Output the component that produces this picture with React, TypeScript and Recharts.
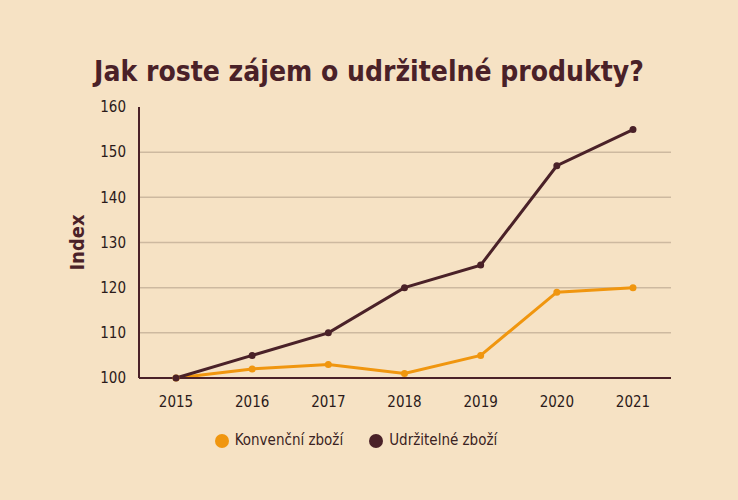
import { CartesianGrid, Legend, Line, LineChart, XAxis, YAxis } from "recharts";

const years = ["2015", "2016", "2017", "2018", "2019", "2020", "2021"];
const konvencni = [100, 102, 103, 101, 105, 119, 120];
const udrzitelne = [100, 105, 110, 120, 125, 147, 155];
const yTicks = [100, 110, 120, 130, 140, 150, 160];

const data = years.map((year, i) => ({
  year,
  konvencni: konvencni[i],
  udrzitelne: udrzitelne[i],
}));

const BG = "#f6e2c4";
const DARK = "#4a2128";
const ORANGE = "#f0960f";
const GRID = "#cdb9a0";
const FONT = "'DejaVu Sans Condensed', 'DejaVu Sans', sans-serif";

export default function App() {
  return (
    <div
      style={{
        position: "absolute",
        left: 0,
        top: 0,
        width: 738,
        height: 500,
        background: BG,
        fontFamily: FONT,
      }}
    >
      <div
        style={{
          position: "absolute",
          top: 55,
          left: 0,
          width: 738,
          textAlign: "center",
          fontSize: 28,
          fontWeight: 700,
          color: DARK,
        }}
      >
        Jak roste zájem o udržitelné produkty?
      </div>
      <LineChart
        width={738}
        height={500}
        data={data}
        margin={{ top: 107, right: 67, bottom: 73, left: 0 }}
        style={{ position: "absolute", left: 0, top: 0 }}
      >
        <CartesianGrid
          stroke={GRID}
          strokeWidth={1.5}
          vertical={false}
          horizontalValues={[110, 120, 130, 140, 150]}
        />
        <XAxis
          dataKey="year"
          padding={{ left: 37, right: 38 }}
          tickLine={false}
          axisLine={{ stroke: DARK, strokeWidth: 2 }}
          tick={{ fill: "#2b1a1a", fontSize: 15, fontFamily: FONT }}
          tickMargin={12}
        />
        <YAxis
          width={139}
          domain={[100, 160]}
          ticks={yTicks}
          tickLine={false}
          axisLine={{ stroke: DARK, strokeWidth: 2 }}
          tick={{ fill: "#2b1a1a", fontSize: 15, fontFamily: FONT }}
          tickMargin={7}
          label={{
            value: "Index",
            angle: -90,
            position: "insideLeft",
            offset: 77,
            style: { fill: DARK, fontSize: 20, fontWeight: 700, fontFamily: FONT, textAnchor: "middle" },
          }}
        />
        <Legend
          verticalAlign="bottom"
          iconType="circle"
          iconSize={14}
          wrapperStyle={{ top: 430, left: 0, width: 738 }}
          formatter={(value) => (
            <span style={{ color: "#3a2222", fontSize: 15, fontFamily: FONT, marginLeft: 2, marginRight: 16 }}>
              {value}
            </span>
          )}
        />
        <Line
          type="linear"
          dataKey="konvencni"
          name="Konvenční zboží"
          stroke={ORANGE}
          strokeWidth={3}
          dot={{ r: 2, fill: ORANGE, stroke: ORANGE }}
          activeDot={false}
          isAnimationActive={false}
        />
        <Line
          type="linear"
          dataKey="udrzitelne"
          name="Udržitelné zboží"
          stroke={DARK}
          strokeWidth={3}
          dot={{ r: 2, fill: DARK, stroke: DARK }}
          activeDot={false}
          isAnimationActive={false}
        />
      </LineChart>
    </div>
  );
}
